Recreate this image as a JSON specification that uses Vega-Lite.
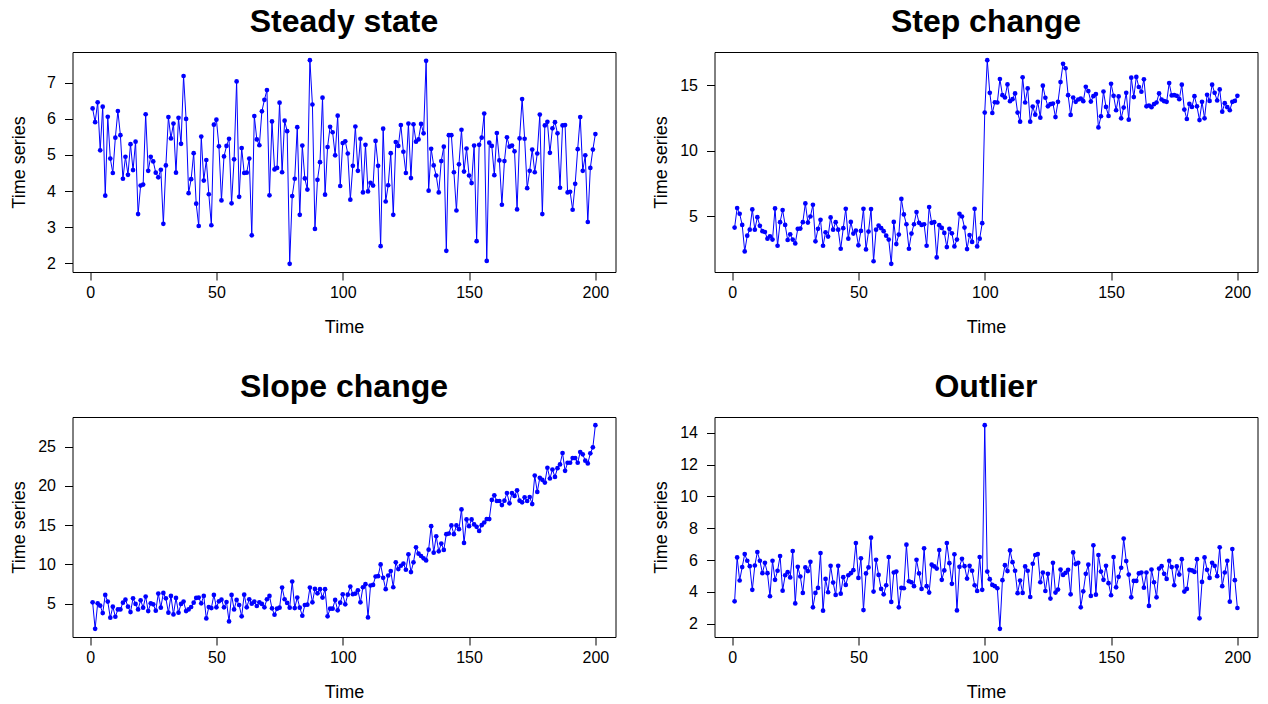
{
"$schema": "https://vega.github.io/schema/vega-lite/v6.json",
"padding": {"left": 9.5, "top": 5, "right": 0, "bottom": 0},
"background": "white",
"datasets": {
"steady": [{"t":1,"v":6.29},{"t":2,"v":5.91},{"t":3,"v":6.46},{"t":4,"v":5.13},{"t":5,"v":6.34},{"t":6,"v":3.87},{"t":7,"v":6.06},{"t":8,"v":4.90},{"t":9,"v":4.50},{"t":10,"v":5.48},{"t":11,"v":6.22},{"t":12,"v":5.55},{"t":13,"v":4.34},{"t":14,"v":4.95},{"t":15,"v":4.45},{"t":16,"v":5.30},{"t":17,"v":4.58},{"t":18,"v":5.37},{"t":19,"v":3.36},{"t":20,"v":4.15},{"t":21,"v":4.18},{"t":22,"v":6.13},{"t":23,"v":4.56},{"t":24,"v":4.95},{"t":25,"v":4.82},{"t":26,"v":4.51},{"t":27,"v":4.38},{"t":28,"v":4.59},{"t":29,"v":3.09},{"t":30,"v":4.71},{"t":31,"v":6.05},{"t":32,"v":5.46},{"t":33,"v":5.87},{"t":34,"v":4.51},{"t":35,"v":6.03},{"t":36,"v":5.31},{"t":37,"v":7.19},{"t":38,"v":6.00},{"t":39,"v":3.94},{"t":40,"v":4.33},{"t":41,"v":5.05},{"t":42,"v":3.65},{"t":43,"v":3.03},{"t":44,"v":5.51},{"t":45,"v":4.29},{"t":46,"v":4.86},{"t":47,"v":3.91},{"t":48,"v":3.05},{"t":49,"v":5.84},{"t":50,"v":5.98},{"t":51,"v":5.24},{"t":52,"v":3.74},{"t":53,"v":4.96},{"t":54,"v":5.25},{"t":55,"v":5.45},{"t":56,"v":3.66},{"t":57,"v":4.88},{"t":58,"v":7.04},{"t":59,"v":3.84},{"t":60,"v":5.19},{"t":61,"v":4.50},{"t":62,"v":4.51},{"t":63,"v":4.90},{"t":64,"v":2.77},{"t":65,"v":6.08},{"t":66,"v":5.43},{"t":67,"v":5.27},{"t":68,"v":6.21},{"t":69,"v":6.53},{"t":70,"v":6.80},{"t":71,"v":3.88},{"t":72,"v":5.93},{"t":73,"v":4.60},{"t":74,"v":4.64},{"t":75,"v":6.45},{"t":76,"v":4.52},{"t":77,"v":5.95},{"t":78,"v":5.66},{"t":79,"v":1.98},{"t":80,"v":3.86},{"t":81,"v":4.34},{"t":82,"v":5.77},{"t":83,"v":3.34},{"t":84,"v":5.26},{"t":85,"v":4.35},{"t":86,"v":4.04},{"t":87,"v":7.63},{"t":88,"v":6.40},{"t":89,"v":2.95},{"t":90,"v":4.31},{"t":91,"v":4.80},{"t":92,"v":6.59},{"t":93,"v":3.90},{"t":94,"v":5.22},{"t":95,"v":5.78},{"t":96,"v":5.63},{"t":97,"v":4.99},{"t":98,"v":6.09},{"t":99,"v":4.14},{"t":100,"v":5.33},{"t":101,"v":5.38},{"t":102,"v":5.04},{"t":103,"v":3.76},{"t":104,"v":4.70},{"t":105,"v":5.79},{"t":106,"v":4.56},{"t":107,"v":5.45},{"t":108,"v":3.96},{"t":109,"v":5.28},{"t":110,"v":3.99},{"t":111,"v":4.23},{"t":112,"v":4.15},{"t":113,"v":5.39},{"t":114,"v":4.70},{"t":115,"v":2.47},{"t":116,"v":5.73},{"t":117,"v":3.71},{"t":118,"v":4.16},{"t":119,"v":5.05},{"t":120,"v":3.34},{"t":121,"v":5.36},{"t":122,"v":5.25},{"t":123,"v":5.83},{"t":124,"v":5.09},{"t":125,"v":4.50},{"t":126,"v":5.87},{"t":127,"v":4.36},{"t":128,"v":5.85},{"t":129,"v":5.37},{"t":130,"v":5.43},{"t":131,"v":5.86},{"t":132,"v":5.60},{"t":133,"v":7.61},{"t":134,"v":4.01},{"t":135,"v":5.17},{"t":136,"v":4.71},{"t":137,"v":4.43},{"t":138,"v":3.96},{"t":139,"v":4.83},{"t":140,"v":5.23},{"t":141,"v":2.34},{"t":142,"v":5.55},{"t":143,"v":5.55},{"t":144,"v":4.52},{"t":145,"v":3.46},{"t":146,"v":4.74},{"t":147,"v":5.70},{"t":148,"v":4.54},{"t":149,"v":5.18},{"t":150,"v":4.43},{"t":151,"v":4.22},{"t":152,"v":5.26},{"t":153,"v":2.61},{"t":154,"v":5.28},{"t":155,"v":5.48},{"t":156,"v":6.15},{"t":157,"v":2.06},{"t":158,"v":5.34},{"t":159,"v":5.25},{"t":160,"v":4.44},{"t":161,"v":5.61},{"t":162,"v":4.85},{"t":163,"v":3.62},{"t":164,"v":4.83},{"t":165,"v":5.49},{"t":166,"v":5.23},{"t":167,"v":5.26},{"t":168,"v":5.10},{"t":169,"v":3.49},{"t":170,"v":5.46},{"t":171,"v":6.55},{"t":172,"v":5.45},{"t":173,"v":4.08},{"t":174,"v":4.56},{"t":175,"v":5.15},{"t":176,"v":4.52},{"t":177,"v":5.04},{"t":178,"v":6.12},{"t":179,"v":3.36},{"t":180,"v":5.82},{"t":181,"v":5.92},{"t":182,"v":5.06},{"t":183,"v":5.74},{"t":184,"v":5.91},{"t":185,"v":5.60},{"t":186,"v":4.09},{"t":187,"v":5.82},{"t":188,"v":5.83},{"t":189,"v":3.96},{"t":190,"v":3.98},{"t":191,"v":3.48},{"t":192,"v":4.20},{"t":193,"v":5.16},{"t":194,"v":6.05},{"t":195,"v":4.56},{"t":196,"v":4.99},{"t":197,"v":3.14},{"t":198,"v":4.64},{"t":199,"v":5.15},{"t":200,"v":5.58}],
"step": [{"t":1,"v":4.13},{"t":2,"v":5.62},{"t":3,"v":5.18},{"t":4,"v":4.33},{"t":5,"v":2.31},{"t":6,"v":3.51},{"t":7,"v":3.97},{"t":8,"v":5.51},{"t":9,"v":3.97},{"t":10,"v":4.92},{"t":11,"v":4.26},{"t":12,"v":3.85},{"t":13,"v":3.79},{"t":14,"v":3.28},{"t":15,"v":3.46},{"t":16,"v":3.21},{"t":17,"v":5.59},{"t":18,"v":2.74},{"t":19,"v":4.54},{"t":20,"v":5.46},{"t":21,"v":4.33},{"t":22,"v":3.18},{"t":23,"v":3.62},{"t":24,"v":3.21},{"t":25,"v":2.92},{"t":26,"v":4.03},{"t":27,"v":4.05},{"t":28,"v":4.54},{"t":29,"v":5.97},{"t":30,"v":4.51},{"t":31,"v":4.97},{"t":32,"v":5.87},{"t":33,"v":3.08},{"t":34,"v":4.03},{"t":35,"v":4.72},{"t":36,"v":2.74},{"t":37,"v":3.77},{"t":38,"v":3.44},{"t":39,"v":4.90},{"t":40,"v":3.97},{"t":41,"v":4.54},{"t":42,"v":3.97},{"t":43,"v":2.51},{"t":44,"v":4.08},{"t":45,"v":5.56},{"t":46,"v":3.28},{"t":47,"v":4.56},{"t":48,"v":3.67},{"t":49,"v":3.90},{"t":50,"v":2.77},{"t":51,"v":3.87},{"t":52,"v":5.56},{"t":53,"v":2.46},{"t":54,"v":3.82},{"t":55,"v":5.54},{"t":56,"v":1.56},{"t":57,"v":3.97},{"t":58,"v":4.28},{"t":59,"v":4.08},{"t":60,"v":3.85},{"t":61,"v":3.51},{"t":62,"v":3.21},{"t":63,"v":1.36},{"t":64,"v":4.56},{"t":65,"v":2.87},{"t":66,"v":3.59},{"t":67,"v":6.31},{"t":68,"v":5.13},{"t":69,"v":4.38},{"t":70,"v":2.51},{"t":71,"v":3.67},{"t":72,"v":4.38},{"t":73,"v":5.31},{"t":74,"v":4.49},{"t":75,"v":4.33},{"t":76,"v":4.38},{"t":77,"v":2.74},{"t":78,"v":5.69},{"t":79,"v":4.49},{"t":80,"v":4.54},{"t":81,"v":1.85},{"t":82,"v":4.31},{"t":83,"v":4.10},{"t":84,"v":3.72},{"t":85,"v":2.64},{"t":86,"v":4.03},{"t":87,"v":3.69},{"t":88,"v":2.69},{"t":89,"v":3.21},{"t":90,"v":5.18},{"t":91,"v":4.97},{"t":92,"v":4.13},{"t":93,"v":2.49},{"t":94,"v":3.56},{"t":95,"v":3.03},{"t":96,"v":5.56},{"t":97,"v":2.69},{"t":98,"v":3.28},{"t":99,"v":4.46},{"t":100,"v":12.90},{"t":101,"v":16.90},{"t":102,"v":14.41},{"t":103,"v":12.87},{"t":104,"v":13.69},{"t":105,"v":13.67},{"t":106,"v":15.46},{"t":107,"v":14.23},{"t":108,"v":14.05},{"t":109,"v":15.05},{"t":110,"v":13.77},{"t":111,"v":13.92},{"t":112,"v":14.36},{"t":113,"v":12.90},{"t":114,"v":12.21},{"t":115,"v":15.59},{"t":116,"v":13.67},{"t":117,"v":14.74},{"t":118,"v":12.21},{"t":119,"v":13.36},{"t":120,"v":12.74},{"t":121,"v":13.72},{"t":122,"v":12.51},{"t":123,"v":14.95},{"t":124,"v":14.03},{"t":125,"v":13.38},{"t":126,"v":13.54},{"t":127,"v":13.59},{"t":128,"v":12.56},{"t":129,"v":13.72},{"t":130,"v":15.23},{"t":131,"v":16.62},{"t":132,"v":16.28},{"t":133,"v":14.23},{"t":134,"v":12.72},{"t":135,"v":14.05},{"t":136,"v":13.72},{"t":137,"v":13.90},{"t":138,"v":13.97},{"t":139,"v":13.77},{"t":140,"v":14.87},{"t":141,"v":14.54},{"t":142,"v":13.74},{"t":143,"v":14.15},{"t":144,"v":14.31},{"t":145,"v":11.77},{"t":146,"v":12.62},{"t":147,"v":14.51},{"t":148,"v":13.33},{"t":149,"v":12.64},{"t":150,"v":15.10},{"t":151,"v":14.18},{"t":152,"v":13.08},{"t":153,"v":14.13},{"t":154,"v":12.46},{"t":155,"v":13.28},{"t":156,"v":14.41},{"t":157,"v":12.36},{"t":158,"v":15.56},{"t":159,"v":14.08},{"t":160,"v":15.62},{"t":161,"v":14.85},{"t":162,"v":14.49},{"t":163,"v":15.44},{"t":164,"v":13.38},{"t":165,"v":13.44},{"t":166,"v":13.31},{"t":167,"v":13.54},{"t":168,"v":13.67},{"t":169,"v":14.36},{"t":170,"v":13.90},{"t":171,"v":13.77},{"t":172,"v":13.72},{"t":173,"v":15.15},{"t":174,"v":14.21},{"t":175,"v":14.23},{"t":176,"v":14.18},{"t":177,"v":13.92},{"t":178,"v":15.03},{"t":179,"v":13.13},{"t":180,"v":12.41},{"t":181,"v":13.56},{"t":182,"v":13.33},{"t":183,"v":14.15},{"t":184,"v":13.38},{"t":185,"v":12.33},{"t":186,"v":13.72},{"t":187,"v":12.46},{"t":188,"v":14.26},{"t":189,"v":13.79},{"t":190,"v":15.03},{"t":191,"v":14.41},{"t":192,"v":13.82},{"t":193,"v":14.67},{"t":194,"v":12.97},{"t":195,"v":13.62},{"t":196,"v":13.31},{"t":197,"v":13.08},{"t":198,"v":13.72},{"t":199,"v":13.79},{"t":200,"v":14.18}],
"slope": [{"t":1,"v":5.17},{"t":2,"v":1.79},{"t":3,"v":5.04},{"t":4,"v":4.74},{"t":5,"v":3.80},{"t":6,"v":6.11},{"t":7,"v":5.26},{"t":8,"v":3.21},{"t":9,"v":4.62},{"t":10,"v":3.33},{"t":11,"v":4.27},{"t":12,"v":4.27},{"t":13,"v":5.13},{"t":14,"v":5.51},{"t":15,"v":4.62},{"t":16,"v":3.93},{"t":17,"v":5.68},{"t":18,"v":4.96},{"t":19,"v":4.27},{"t":20,"v":5.43},{"t":21,"v":4.49},{"t":22,"v":5.90},{"t":23,"v":4.06},{"t":24,"v":5.04},{"t":25,"v":4.91},{"t":26,"v":4.10},{"t":27,"v":6.28},{"t":28,"v":4.49},{"t":29,"v":6.37},{"t":30,"v":5.68},{"t":31,"v":3.85},{"t":32,"v":5.98},{"t":33,"v":3.63},{"t":34,"v":5.73},{"t":35,"v":3.85},{"t":36,"v":4.96},{"t":37,"v":5.26},{"t":38,"v":4.06},{"t":39,"v":4.27},{"t":40,"v":4.57},{"t":41,"v":5.13},{"t":42,"v":5.73},{"t":43,"v":5.77},{"t":44,"v":5.04},{"t":45,"v":5.98},{"t":46,"v":3.12},{"t":47,"v":4.57},{"t":48,"v":4.44},{"t":49,"v":6.11},{"t":50,"v":4.53},{"t":51,"v":5.30},{"t":52,"v":5.51},{"t":53,"v":4.53},{"t":54,"v":5.21},{"t":55,"v":2.74},{"t":56,"v":6.11},{"t":57,"v":4.27},{"t":58,"v":5.47},{"t":59,"v":4.83},{"t":60,"v":3.38},{"t":61,"v":6.15},{"t":62,"v":4.53},{"t":63,"v":5.56},{"t":64,"v":5.00},{"t":65,"v":5.26},{"t":66,"v":4.70},{"t":67,"v":5.17},{"t":68,"v":4.96},{"t":69,"v":4.53},{"t":70,"v":5.56},{"t":71,"v":5.98},{"t":72,"v":4.40},{"t":73,"v":3.59},{"t":74,"v":4.36},{"t":75,"v":4.49},{"t":76,"v":7.05},{"t":77,"v":5.56},{"t":78,"v":5.09},{"t":79,"v":4.49},{"t":80,"v":7.82},{"t":81,"v":4.44},{"t":82,"v":5.77},{"t":83,"v":4.49},{"t":84,"v":3.46},{"t":85,"v":4.83},{"t":86,"v":4.87},{"t":87,"v":7.05},{"t":88,"v":5.17},{"t":89,"v":6.88},{"t":90,"v":6.32},{"t":91,"v":6.84},{"t":92,"v":5.77},{"t":93,"v":6.84},{"t":94,"v":3.38},{"t":95,"v":4.36},{"t":96,"v":4.36},{"t":97,"v":5.47},{"t":98,"v":4.15},{"t":99,"v":5.13},{"t":100,"v":6.20},{"t":101,"v":4.91},{"t":102,"v":6.15},{"t":103,"v":7.18},{"t":104,"v":6.20},{"t":105,"v":6.28},{"t":106,"v":6.71},{"t":107,"v":5.17},{"t":108,"v":7.09},{"t":109,"v":7.48},{"t":110,"v":3.25},{"t":111,"v":7.31},{"t":112,"v":7.39},{"t":113,"v":8.46},{"t":114,"v":8.50},{"t":115,"v":10.00},{"t":116,"v":8.29},{"t":117,"v":6.84},{"t":118,"v":8.59},{"t":119,"v":9.15},{"t":120,"v":7.09},{"t":121,"v":10.26},{"t":122,"v":9.40},{"t":123,"v":9.83},{"t":124,"v":10.09},{"t":125,"v":9.32},{"t":126,"v":11.28},{"t":127,"v":9.02},{"t":128,"v":10.26},{"t":129,"v":12.18},{"t":130,"v":11.37},{"t":131,"v":11.07},{"t":132,"v":10.77},{"t":133,"v":10.51},{"t":134,"v":11.88},{"t":135,"v":14.87},{"t":136,"v":11.50},{"t":137,"v":13.59},{"t":138,"v":11.67},{"t":139,"v":12.65},{"t":140,"v":11.84},{"t":141,"v":13.85},{"t":142,"v":13.93},{"t":143,"v":14.96},{"t":144,"v":13.85},{"t":145,"v":14.96},{"t":146,"v":14.49},{"t":147,"v":17.01},{"t":148,"v":12.74},{"t":149,"v":15.73},{"t":150,"v":14.87},{"t":151,"v":15.73},{"t":152,"v":15.09},{"t":153,"v":14.79},{"t":154,"v":14.27},{"t":155,"v":15.00},{"t":156,"v":15.34},{"t":157,"v":15.77},{"t":158,"v":15.77},{"t":159,"v":18.21},{"t":160,"v":18.80},{"t":161,"v":18.08},{"t":162,"v":18.08},{"t":163,"v":17.56},{"t":164,"v":18.12},{"t":165,"v":19.10},{"t":166,"v":17.78},{"t":167,"v":19.10},{"t":168,"v":18.72},{"t":169,"v":19.44},{"t":170,"v":18.12},{"t":171,"v":17.91},{"t":172,"v":18.55},{"t":173,"v":18.08},{"t":174,"v":18.59},{"t":175,"v":17.69},{"t":176,"v":21.32},{"t":177,"v":19.23},{"t":178,"v":21.03},{"t":179,"v":20.77},{"t":180,"v":20.43},{"t":181,"v":22.31},{"t":182,"v":20.94},{"t":183,"v":22.09},{"t":184,"v":21.15},{"t":185,"v":22.26},{"t":186,"v":22.74},{"t":187,"v":24.19},{"t":188,"v":21.92},{"t":189,"v":22.95},{"t":190,"v":22.95},{"t":191,"v":23.55},{"t":192,"v":23.55},{"t":193,"v":22.95},{"t":194,"v":24.32},{"t":195,"v":24.02},{"t":196,"v":23.21},{"t":197,"v":22.86},{"t":198,"v":24.15},{"t":199,"v":24.91},{"t":200,"v":27.74}],
"outlier": [{"t":1,"v":3.41},{"t":2,"v":6.17},{"t":3,"v":4.72},{"t":4,"v":5.56},{"t":5,"v":6.38},{"t":6,"v":5.96},{"t":7,"v":5.62},{"t":8,"v":4.13},{"t":9,"v":5.66},{"t":10,"v":6.51},{"t":11,"v":5.96},{"t":12,"v":5.18},{"t":13,"v":5.83},{"t":14,"v":5.18},{"t":15,"v":3.73},{"t":16,"v":5.96},{"t":17,"v":4.76},{"t":18,"v":5.33},{"t":19,"v":6.25},{"t":20,"v":4.08},{"t":21,"v":5.05},{"t":22,"v":5.24},{"t":23,"v":4.91},{"t":24,"v":6.57},{"t":25,"v":3.28},{"t":26,"v":5.58},{"t":27,"v":4.97},{"t":28,"v":3.94},{"t":29,"v":5.54},{"t":30,"v":5.31},{"t":31,"v":5.89},{"t":32,"v":3.03},{"t":33,"v":3.94},{"t":34,"v":4.25},{"t":35,"v":6.44},{"t":36,"v":2.82},{"t":37,"v":4.82},{"t":38,"v":3.98},{"t":39,"v":5.64},{"t":40,"v":4.59},{"t":41,"v":3.81},{"t":42,"v":5.64},{"t":43,"v":3.89},{"t":44,"v":4.93},{"t":45,"v":4.44},{"t":46,"v":5.05},{"t":47,"v":5.18},{"t":48,"v":5.37},{"t":49,"v":7.07},{"t":50,"v":4.88},{"t":51,"v":6.11},{"t":52,"v":2.86},{"t":53,"v":5.16},{"t":54,"v":5.54},{"t":55,"v":7.41},{"t":56,"v":4.02},{"t":57,"v":6.02},{"t":58,"v":5.07},{"t":59,"v":4.19},{"t":60,"v":3.85},{"t":61,"v":4.42},{"t":62,"v":6.19},{"t":63,"v":3.37},{"t":64,"v":5.22},{"t":65,"v":5.28},{"t":66,"v":3.03},{"t":67,"v":4.25},{"t":68,"v":4.23},{"t":69,"v":6.97},{"t":70,"v":4.67},{"t":71,"v":4.61},{"t":72,"v":4.36},{"t":73,"v":6.02},{"t":74,"v":5.16},{"t":75,"v":4.19},{"t":76,"v":6.74},{"t":77,"v":4.36},{"t":78,"v":3.96},{"t":79,"v":5.71},{"t":80,"v":5.60},{"t":81,"v":5.47},{"t":82,"v":6.63},{"t":83,"v":4.76},{"t":84,"v":5.35},{"t":85,"v":7.07},{"t":86,"v":5.81},{"t":87,"v":4.51},{"t":88,"v":6.36},{"t":89,"v":2.84},{"t":90,"v":5.58},{"t":91,"v":6.08},{"t":92,"v":5.62},{"t":93,"v":4.84},{"t":94,"v":5.64},{"t":95,"v":5.33},{"t":96,"v":4.42},{"t":97,"v":4.06},{"t":98,"v":6.19},{"t":99,"v":4.13},{"t":100,"v":14.48},{"t":101,"v":5.28},{"t":102,"v":4.80},{"t":103,"v":4.44},{"t":104,"v":4.36},{"t":105,"v":4.23},{"t":106,"v":1.68},{"t":107,"v":4.74},{"t":108,"v":5.68},{"t":109,"v":5.31},{"t":110,"v":6.61},{"t":111,"v":5.87},{"t":112,"v":5.33},{"t":113,"v":3.92},{"t":114,"v":4.72},{"t":115,"v":3.94},{"t":116,"v":5.60},{"t":117,"v":5.33},{"t":118,"v":3.68},{"t":119,"v":5.77},{"t":120,"v":6.32},{"t":121,"v":6.38},{"t":122,"v":4.61},{"t":123,"v":5.22},{"t":124,"v":4.06},{"t":125,"v":5.14},{"t":126,"v":3.58},{"t":127,"v":5.83},{"t":128,"v":3.96},{"t":129,"v":4.15},{"t":130,"v":5.41},{"t":131,"v":5.07},{"t":132,"v":5.20},{"t":133,"v":5.39},{"t":134,"v":3.85},{"t":135,"v":6.48},{"t":136,"v":5.75},{"t":137,"v":5.83},{"t":138,"v":3.03},{"t":139,"v":4.04},{"t":140,"v":5.14},{"t":141,"v":5.71},{"t":142,"v":3.75},{"t":143,"v":6.93},{"t":144,"v":3.83},{"t":145,"v":6.32},{"t":146,"v":5.28},{"t":147,"v":4.76},{"t":148,"v":5.64},{"t":149,"v":4.55},{"t":150,"v":3.79},{"t":151,"v":6.19},{"t":152,"v":4.29},{"t":153,"v":4.95},{"t":154,"v":5.52},{"t":155,"v":7.35},{"t":156,"v":5.94},{"t":157,"v":5.09},{"t":158,"v":3.66},{"t":159,"v":4.69},{"t":160,"v":4.69},{"t":161,"v":5.16},{"t":162,"v":5.22},{"t":163,"v":4.27},{"t":164,"v":5.22},{"t":165,"v":3.12},{"t":166,"v":5.41},{"t":167,"v":4.61},{"t":168,"v":3.66},{"t":169,"v":5.47},{"t":170,"v":5.62},{"t":171,"v":5.14},{"t":172,"v":4.82},{"t":173,"v":5.96},{"t":174,"v":5.56},{"t":175,"v":4.42},{"t":176,"v":5.60},{"t":177,"v":5.09},{"t":178,"v":6.06},{"t":179,"v":4.02},{"t":180,"v":4.19},{"t":181,"v":5.39},{"t":182,"v":5.35},{"t":183,"v":5.26},{"t":184,"v":6.06},{"t":185,"v":2.34},{"t":186,"v":4.63},{"t":187,"v":6.17},{"t":188,"v":5.39},{"t":189,"v":4.88},{"t":190,"v":5.83},{"t":191,"v":5.64},{"t":192,"v":4.99},{"t":193,"v":6.80},{"t":194,"v":4.36},{"t":195,"v":5.22},{"t":196,"v":5.96},{"t":197,"v":3.39},{"t":198,"v":6.69},{"t":199,"v":4.74},{"t":200,"v":2.99}]
},
"columns": 2,
"spacing": {"row": 145, "column": 99},
"bounds": "flush",
"concat": [
{"title": {"text": "Steady state"}, "width": 543, "height": 220, "data": {"name": "steady"},
 "encoding": {
  "x": {"field": "t", "type": "quantitative", "scale": {"domain": [-6.96, 207.96], "nice": false, "zero": false}, "axis": {"values": [0, 50, 100, 150, 200], "title": "Time"}},
  "y": {"field": "v", "type": "quantitative", "scale": {"domain": [1.754, 7.856], "nice": false, "zero": false}, "axis": {"values": [2, 3, 4, 5, 6, 7], "title": "Time series"}}},
 "layer": [{"mark": {"type": "line", "color": "#0000ff", "strokeWidth": 1}}, {"mark": {"type": "circle", "color": "#0000ff", "size": 22, "opacity": 1}}]},
{"title": {"text": "Step change"}, "width": 543, "height": 220, "data": {"name": "step"},
 "encoding": {
  "x": {"field": "t", "type": "quantitative", "scale": {"domain": [-6.96, 207.96], "nice": false, "zero": false}, "axis": {"values": [0, 50, 100, 150, 200], "title": "Time"}},
  "y": {"field": "v", "type": "quantitative", "scale": {"domain": [0.738, 17.522], "nice": false, "zero": false}, "axis": {"values": [5, 10, 15], "title": "Time series"}}},
 "layer": [{"mark": {"type": "line", "color": "#0000ff", "strokeWidth": 1}}, {"mark": {"type": "circle", "color": "#0000ff", "size": 22, "opacity": 1}}]},
{"title": {"text": "Slope change"}, "width": 543, "height": 220, "data": {"name": "slope"},
 "encoding": {
  "x": {"field": "t", "type": "quantitative", "scale": {"domain": [-6.96, 207.96], "nice": false, "zero": false}, "axis": {"values": [0, 50, 100, 150, 200], "title": "Time"}},
  "y": {"field": "v", "type": "quantitative", "scale": {"domain": [0.752, 28.778], "nice": false, "zero": false}, "axis": {"values": [5, 10, 15, 20, 25], "title": "Time series"}}},
 "layer": [{"mark": {"type": "line", "color": "#0000ff", "strokeWidth": 1}}, {"mark": {"type": "circle", "color": "#0000ff", "size": 22, "opacity": 1}}]},
{"title": {"text": "Outlier"}, "width": 543, "height": 220, "data": {"name": "outlier"},
 "encoding": {
  "x": {"field": "t", "type": "quantitative", "scale": {"domain": [-6.96, 207.96], "nice": false, "zero": false}, "axis": {"values": [0, 50, 100, 150, 200], "title": "Time"}},
  "y": {"field": "v", "type": "quantitative", "scale": {"domain": [1.168, 14.992], "nice": false, "zero": false}, "axis": {"values": [2, 4, 6, 8, 10, 12, 14], "title": "Time series"}}},
 "layer": [{"mark": {"type": "line", "color": "#0000ff", "strokeWidth": 1}}, {"mark": {"type": "circle", "color": "#0000ff", "size": 22, "opacity": 1}}]}
],
"config": {
 "font": "Liberation Sans",
 "view": {"stroke": "black", "strokeWidth": 1},
 "axis": {"domain": false, "grid": false, "ticks": true, "tickColor": "black", "tickSize": 8, "tickWidth": 1, "labelFont": "Liberation Sans", "labelFontSize": 16, "labelColor": "black", "titleFont": "Liberation Sans", "titleFontSize": 18, "titleFontWeight": "normal", "titleColor": "black"},
 "axisX": {"labelPadding": 4, "titleY": 60, "titleBaseline": "alphabetic"},
 "axisY": {"labelPadding": 9, "labelAngle": 0, "titleX": -48, "titleBaseline": "alphabetic"},
 "title": {"font": "Liberation Sans", "fontSize": 32, "fontWeight": "bold", "color": "black", "anchor": "middle", "frame": "group", "baseline": "alphabetic", "offset": 13}
}
}
